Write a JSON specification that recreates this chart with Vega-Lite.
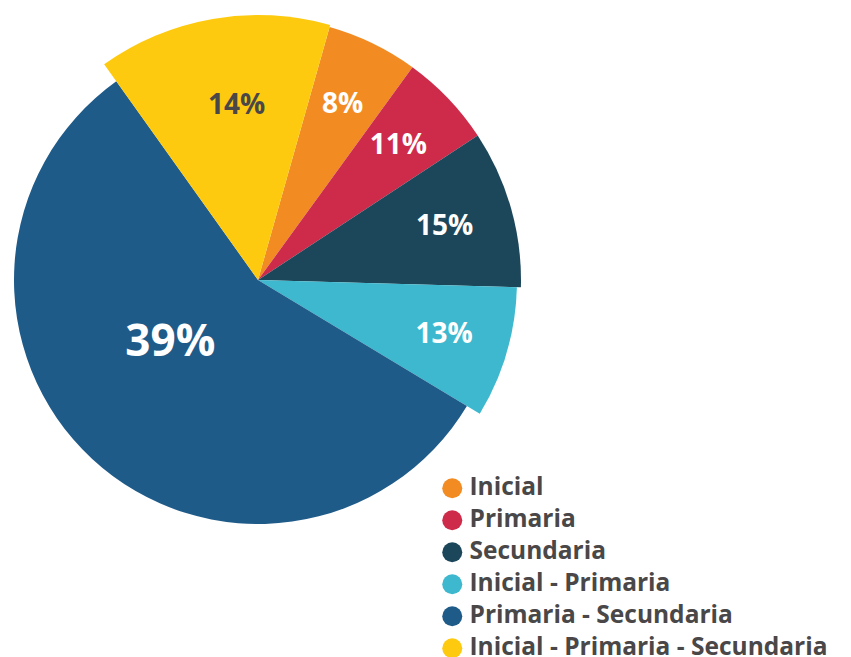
{
  "$schema": "https://vega.github.io/schema/vega-lite/v6.json",
  "width": 516,
  "height": 560,
  "padding": 0,
  "background": "white",
  "config": {"view": {"stroke": null}, "font": "Open Sans"},
  "data": {
    "values": [
      {"rank": 1, "cat": "Inicial", "share": 5.6, "label": "8%"},
      {"rank": 2, "cat": "Primaria", "share": 5.75, "label": "11%"},
      {"rank": 3, "cat": "Secundaria", "share": 9.7, "label": "15%"},
      {"rank": 4, "cat": "Inicial - Primaria", "share": 8.2, "label": "13%"},
      {"rank": 5, "cat": "Primaria - Secundaria", "share": 56.5, "label": "39%"},
      {"rank": 6, "cat": "Inicial - Primaria - Secundaria", "share": 14.25, "label": "14%"}
    ]
  },
  "transform": [
    {"stack": "share", "sort": [{"field": "rank", "order": "ascending"}], "groupby": [], "as": ["t0", "t1"]}
  ],
  "encoding": {
    "color": {
      "field": "cat",
      "type": "nominal",
      "scale": {
        "domain": ["Inicial", "Primaria", "Secundaria", "Inicial - Primaria", "Primaria - Secundaria", "Inicial - Primaria - Secundaria"],
        "range": ["#F28B22", "#CE2A4A", "#1C475A", "#3DB8CE", "#1F5B89", "#FDCA10"]
      },
      "legend": {
        "orient": "none",
        "legendX": 440,
        "legendY": 476,
        "title": null,
        "symbolType": "circle",
        "symbolSize": 400,
        "symbolStrokeWidth": 0,
        "labelFont": "Open Sans",
        "labelFontSize": 24.5,
        "labelFontWeight": "bold",
        "labelColor": "#4a4748",
        "labelOffset": 5,
        "labelLimit": 500,
        "rowPadding": 7,
        "padding": 0
      }
    }
  },
  "layer": [
    {
      "transform": [{"filter": {"field": "cat", "oneOf": ["Inicial", "Primaria", "Secundaria"]}}],
      "mark": {"type": "arc", "outerRadius": 263},
      "encoding": {
        "theta": {"field": "t0", "type": "quantitative", "scale": {"domain": [0, 100], "range": [0.2758, 6.559]}},
        "theta2": {"field": "t1"}
      }
    },
    {
      "transform": [{"filter": {"field": "cat", "equal": "Inicial - Primaria"}}],
      "mark": {"type": "arc", "outerRadius": 259},
      "encoding": {
        "theta": {"field": "t0", "type": "quantitative", "scale": {"domain": [0, 100], "range": [0.2758, 6.559]}},
        "theta2": {"field": "t1"}
      }
    },
    {
      "transform": [{"filter": {"field": "cat", "equal": "Primaria - Secundaria"}}],
      "mark": {"type": "arc", "outerRadius": 244},
      "encoding": {
        "theta": {"field": "t0", "type": "quantitative", "scale": {"domain": [0, 100], "range": [0.2758, 6.559]}},
        "theta2": {"field": "t1"}
      }
    },
    {
      "transform": [{"filter": {"field": "cat", "equal": "Inicial - Primaria - Secundaria"}}],
      "mark": {"type": "arc", "outerRadius": 265},
      "encoding": {
        "theta": {"field": "t0", "type": "quantitative", "scale": {"domain": [0, 100], "range": [0.2758, 6.559]}},
        "theta2": {"field": "t1"}
      }
    },
    {
      "mark": {"type": "text", "radius": 194, "fontSize": 28, "fontWeight": "bold", "font": "Open Sans"},
      "encoding": {
        "theta": {"field": "share", "type": "quantitative", "stack": true, "scale": {"domain": [0, 100], "range": [0.2758, 6.559]}},
        "order": {"field": "rank", "type": "quantitative"},
        "text": {"field": "label"},
        "color": {"value": "white"},
        "opacity": {"condition": {"test": "datum.cat === 'Primaria - Secundaria' || datum.cat === 'Inicial - Primaria - Secundaria'", "value": 0}, "value": 1}
      }
    },
    {
      "mark": {"type": "text", "radius": 175, "thetaOffset": 0.05, "fontSize": 28, "fontWeight": "bold", "font": "Open Sans"},
      "encoding": {
        "theta": {"field": "share", "type": "quantitative", "stack": true, "scale": {"domain": [0, 100], "range": [0.2758, 6.559]}},
        "order": {"field": "rank", "type": "quantitative"},
        "text": {"field": "label"},
        "color": {"value": "#4a4748"},
        "opacity": {"condition": {"test": "datum.cat === 'Inicial - Primaria - Secundaria'", "value": 1}, "value": 0}
      }
    },
    {
      "mark": {"type": "text", "radius": 108, "thetaOffset": 0.2, "fontSize": 44, "fontWeight": "bold", "font": "Open Sans"},
      "encoding": {
        "theta": {"field": "share", "type": "quantitative", "stack": true, "scale": {"domain": [0, 100], "range": [0.2758, 6.559]}},
        "order": {"field": "rank", "type": "quantitative"},
        "text": {"field": "label"},
        "color": {"value": "white"},
        "opacity": {"condition": {"test": "datum.cat === 'Primaria - Secundaria'", "value": 1}, "value": 0}
      }
    }
  ]
}
